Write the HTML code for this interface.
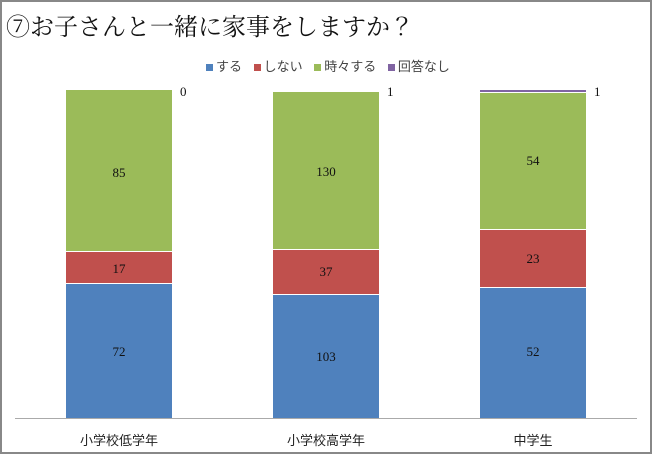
<!DOCTYPE html>
<html><head><meta charset="utf-8"><style>
body{margin:0;background:#fff;}
.wrap{position:relative;width:648px;height:450px;border:2px solid #888;background:#fff;overflow:hidden;font-family:"Liberation Serif","Noto Serif CJK SC",serif;}
.t{position:absolute;left:4px;top:5px;font-size:24px;font-family:"Liberation Serif","Noto Serif CJK JP","Noto Serif CJK SC",serif;color:#111;white-space:nowrap;}
.lg{position:absolute;top:54px;left:196px;font-size:13px;font-family:"Liberation Sans","Noto Sans CJK JP",sans-serif;color:#444;white-space:nowrap;}
.lg span.s{display:inline-block;width:7px;height:7px;margin:0 3px 0 8px;}
.b{position:absolute;width:106px;}
.v{position:absolute;width:106px;text-align:center;font-size:13px;color:#111;}
.n{position:absolute;font-size:13px;color:#111;}
.x{position:absolute;top:428px;font-size:13px;font-family:"Liberation Sans","Noto Sans CJK JP",sans-serif;color:#222;width:140px;text-align:center;}
</style></head><body><div class="wrap">
<div class="t">⑦お子さんと一緒に家事をしますか？</div>
<div class="lg"><span class="s" style="background:#4f81bd"></span>する <span class="s" style="background:#c0504d"></span>しない <span class="s" style="background:#9bbb59"></span>時々する <span class="s" style="background:#8064a2"></span>回答なし</div>
<div class="b" style="left:64px;top:88px;height:161px;background:#9bbb59"></div>
<div class="b" style="left:64px;top:249px;height:32px;background:#c0504d;border-top:1px solid #fff;box-sizing:border-box"></div>
<div class="b" style="left:64px;top:281px;height:135px;background:#4f81bd;border-top:1px solid #fff;box-sizing:border-box"></div>
<div class="v" style="left:64px;top:163px">85</div>
<div class="v" style="left:64px;top:259px">17</div>
<div class="v" style="left:64px;top:342px">72</div>
<div class="n" style="left:178px;top:82px">0</div>
<div class="b" style="left:271px;top:90px;height:157px;background:#9bbb59"></div>
<div class="b" style="left:271px;top:247px;height:45px;background:#c0504d;border-top:1px solid #fff;box-sizing:border-box"></div>
<div class="b" style="left:271px;top:292px;height:124px;background:#4f81bd;border-top:1px solid #fff;box-sizing:border-box"></div>
<div class="v" style="left:271px;top:162px">130</div>
<div class="v" style="left:271px;top:262px">37</div>
<div class="v" style="left:271px;top:347px">103</div>
<div class="n" style="left:385px;top:82px">1</div>
<div class="b" style="left:478px;top:88px;height:3px;background:#8064a2;border-bottom:1px solid #fff;box-sizing:border-box"></div>
<div class="b" style="left:478px;top:91px;height:136px;background:#9bbb59"></div>
<div class="b" style="left:478px;top:227px;height:58px;background:#c0504d;border-top:1px solid #fff;box-sizing:border-box"></div>
<div class="b" style="left:478px;top:285px;height:131px;background:#4f81bd;border-top:1px solid #fff;box-sizing:border-box"></div>
<div class="v" style="left:478px;top:151px">54</div>
<div class="v" style="left:478px;top:249px">23</div>
<div class="v" style="left:478px;top:342px">52</div>
<div class="n" style="left:592px;top:82px">1</div>
<div style="position:absolute;left:13px;top:416px;width:622px;height:1px;background:#aaa"></div>
<div class="x" style="left:47px">小学校低学年</div>
<div class="x" style="left:254px">小学校高学年</div>
<div class="x" style="left:461px">中学生</div>
</div></body></html>
